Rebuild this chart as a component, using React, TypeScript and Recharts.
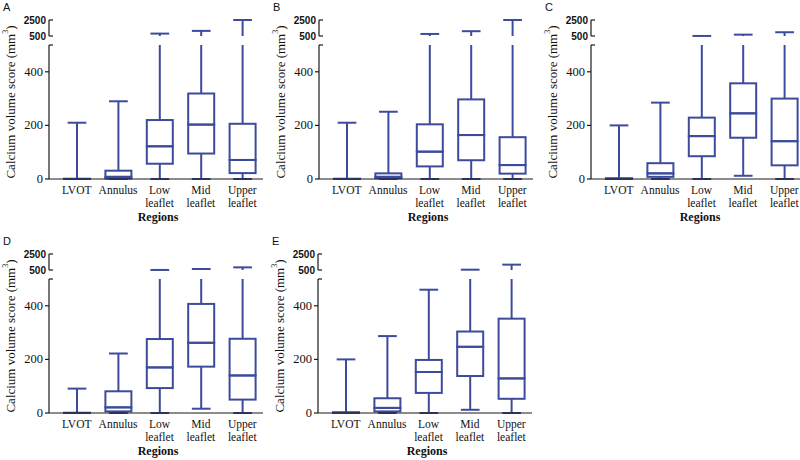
import React from 'react';
import { ComposedChart, Bar, XAxis, YAxis } from 'recharts';

const regions = ['LVOT', 'Annulus', 'Low leaflet', 'Mid leaflet', 'Upper leaflet'];

// five-number summary per region: [min, q1, median, q3, max]
const statsA = [[0, 0, 0, 1, 210], [0, 2, 8, 31, 290], [0, 57, 122, 220, 800], [0, 95, 203, 319, 1140], [0, 22, 71, 206, 2500]];
const statsB = [[0, 0, 0, 1, 210], [0, 3, 8, 21, 251], [0, 47, 102, 204, 755], [0, 70, 164, 297, 1100], [0, 20, 52, 156, 2500]];
const statsC = [[0, 0, 0, 3, 200], [0, 8, 21, 59, 285], [0, 85, 160, 229, 505], [12, 154, 245, 357, 670], [0, 51, 141, 300, 970]];
const statsD = [[0, 0, 0, 1, 91], [0, 6, 21, 81, 222], [0, 93, 170, 276, 505], [16, 173, 262, 407, 625], [0, 50, 140, 277, 830]];
const statsE = [[0, 0, 0, 3, 200], [0, 6, 19, 55, 287], [0, 75, 153, 198, 460], [12, 138, 247, 304, 540], [0, 53, 129, 352, 1170]];

const lowTicks = [0, 200, 400, 500];
const highTicks = [500, 2500];
const LOW_TOP = 500;
const HIGH_TOP = 2500;

const BLUE = '#3c4b9c';
const AXIS = '#1a1a1a';
const SERIF = '"Liberation Serif", "Times New Roman", serif';
const SANS = '"Liberation Sans", Arial, sans-serif';

const AXIS_W = 40;
const CHART_W = 258;
const X_H = 48;

const buildData = (stats: number[][]) =>
  regions.map((name, i) => {
    const [min, q1, med, q3, max] = stats[i];
    const top = Math.min(max, LOW_TOP);
    return {
      name, min, q1, med, q3, max,
      base: min,
      w1: q1 - min,
      b1: med - q1,
      b2: q3 - med,
      w2: top - q3,
    };
  });

const span = (p: any) => {
  const t = Math.min(p.y, p.y + p.height);
  const b = Math.max(p.y, p.y + p.height);
  return { cx: p.x + p.width / 2, t, b, hw: p.width * 0.36 };
};

const LowWhisker = (p: any) => {
  const { cx, t, b, hw } = span(p);
  return (
    <g stroke={BLUE} strokeWidth={2}>
      <line x1={cx} x2={cx} y1={t} y2={b} />
      <line x1={cx - hw} x2={cx + hw} y1={b} y2={b} />
    </g>
  );
};

const HighWhisker = (p: any) => {
  const { cx, t, b, hw } = span(p);
  const broken = p.payload.max > LOW_TOP;
  return (
    <g stroke={BLUE} strokeWidth={2}>
      <line x1={cx} x2={cx} y1={t} y2={b} />
      {!broken && <line x1={cx - hw} x2={cx + hw} y1={t} y2={t} />}
    </g>
  );
};

const BoxPart = (p: any) => {
  const { t, b } = span(p);
  return <rect x={p.x} y={t} width={p.width} height={b - t} fill="none" stroke={BLUE} strokeWidth={2} />;
};

const TopWhisker = (p: any) => {
  if (p.payload.max <= LOW_TOP) return <g />;
  const { cx, t, b, hw } = span(p);
  return (
    <g stroke={BLUE} strokeWidth={2}>
      <line x1={cx} x2={cx} y1={t} y2={b} />
      <line x1={cx - hw} x2={cx + hw} y1={t} y2={t} />
    </g>
  );
};

const LowTick = ({ x, y, payload }: any) => {
  if (payload.value === LOW_TOP) {
    return <line x1={x} x2={x + 4} y1={y} y2={y} stroke={AXIS} strokeWidth={1.2} />;
  }
  return (
    <g>
      <line x1={x - 4} x2={x} y1={y} y2={y} stroke={AXIS} strokeWidth={1.2} />
      <text x={x - 6} y={y} dy={4} textAnchor="end" fontFamily={SERIF} fontSize={12.5} fill="#111">
        {payload.value}
      </text>
    </g>
  );
};

const HighTick = ({ x, y, payload }: any) => (
  <g>
    <line x1={x} x2={x + 4} y1={y} y2={y} stroke={AXIS} strokeWidth={1.2} />
    <text x={x - 3} y={y} dy={3.5} textAnchor="end" fontFamily={SANS} fontWeight="bold" fontSize={10} fill="#111">
      {payload.value}
    </text>
  </g>
);

const RegionTick = ({ x, y, payload }: any) => {
  const words = String(payload.value).split(' ');
  return (
    <text x={x} y={y} textAnchor="middle" fontFamily={SERIF} fontSize={11.5} fill="#111">
      {words.map((w, i) => (
        <tspan key={i} x={x} dy={i === 0 ? 15 : 13}>{w}</tspan>
      ))}
    </text>
  );
};

const RegionsLabel = ({ viewBox }: any) => (
  <text x={viewBox.x + viewBox.width / 2 + 2} y={viewBox.y + 42} textAnchor="middle"
    fontFamily={SERIF} fontWeight="bold" fontSize={12} fill="#111">
    Regions
  </text>
);

type PanelProps = { letter: string; ax: number; zy: number; stats: number[][] };

function Panel({ letter, ax, zy, stats }: PanelProps) {
  const data = buildData(stats);
  const left = ax - AXIS_W;
  const xPad = { left: 7, right: 0 };
  return (
    <>
      <div style={{ position: 'absolute', left: ax - 46, top: zy - 177, font: `11px ${SANS}`, lineHeight: '11px', color: '#111' }}>
        {letter}
      </div>
      <svg style={{ position: 'absolute', left: ax - 50, top: zy - 170 }} width={22} height={186}>
        <text transform="translate(11, 93) rotate(-90)" textAnchor="middle" dominantBaseline="central"
          fontFamily={SERIF} fontSize={13} fill="#111">
          Calcium volume score (mm<tspan fontSize={8} dy={-5}>3</tspan><tspan dy={5}>)</tspan>
        </text>
      </svg>

      {/* upper segment of the broken axis: 500 - 2500 */}
      <div style={{ position: 'absolute', left, top: zy - 164 }}>
        <ComposedChart width={CHART_W} height={26} data={data} margin={{ top: 5, right: 4, bottom: 5, left: 0 }}>
          <XAxis dataKey="name" hide padding={xPad} />
          <YAxis width={AXIS_W} domain={[LOW_TOP, HIGH_TOP]} ticks={highTicks} type="number"
            axisLine={{ stroke: AXIS, strokeWidth: 1.2 }} tickLine={false} tickSize={0} tickMargin={0}
            tick={<HighTick />} interval={0} />
          <Bar dataKey={(d: any) => [LOW_TOP, Math.max(d.max, LOW_TOP)]} barSize={26} shape={<TopWhisker />}
            isAnimationActive={false} />
        </ComposedChart>
      </div>

      {/* lower segment: 0 - 500 */}
      <div style={{ position: 'absolute', left, top: zy - 139 }}>
        <ComposedChart width={CHART_W} height={5 + 134 + X_H} data={data} margin={{ top: 5, right: 4, bottom: 0, left: 0 }}>
          <XAxis dataKey="name" padding={xPad} height={X_H} interval={0}
            axisLine={{ stroke: AXIS, strokeWidth: 1.2 }} tickLine={false} tickSize={0} tickMargin={0}
            tick={<RegionTick />} label={<RegionsLabel />} />
          <YAxis width={AXIS_W} domain={[0, LOW_TOP]} ticks={lowTicks} type="number" interval={0}
            axisLine={{ stroke: AXIS, strokeWidth: 1.2 }} tickLine={false} tickSize={0} tickMargin={0}
            tick={<LowTick />} />
          <Bar dataKey="base" stackId="s" barSize={26} fill="none" isAnimationActive={false} />
          <Bar dataKey="w1" stackId="s" barSize={26} shape={<LowWhisker />} isAnimationActive={false} />
          <Bar dataKey="b1" stackId="s" barSize={26} shape={<BoxPart />} isAnimationActive={false} />
          <Bar dataKey="b2" stackId="s" barSize={26} shape={<BoxPart />} isAnimationActive={false} />
          <Bar dataKey="w2" stackId="s" barSize={26} shape={<HighWhisker />} isAnimationActive={false} />
        </ComposedChart>
      </div>
    </>
  );
}

export default function App() {
  return (
    <div style={{ position: 'absolute', left: 0, top: 0, width: 800, height: 460, overflow: 'hidden', background: '#fff' }}>
      <Panel letter="A" ax={49} zy={179} stats={statsA} />
      <Panel letter="B" ax={319} zy={179} stats={statsB} />
      <Panel letter="C" ax={591} zy={179} stats={statsC} />
      <Panel letter="D" ax={49} zy={413} stats={statsD} />
      <Panel letter="E" ax={318} zy={413} stats={statsE} />
    </div>
  );
}
